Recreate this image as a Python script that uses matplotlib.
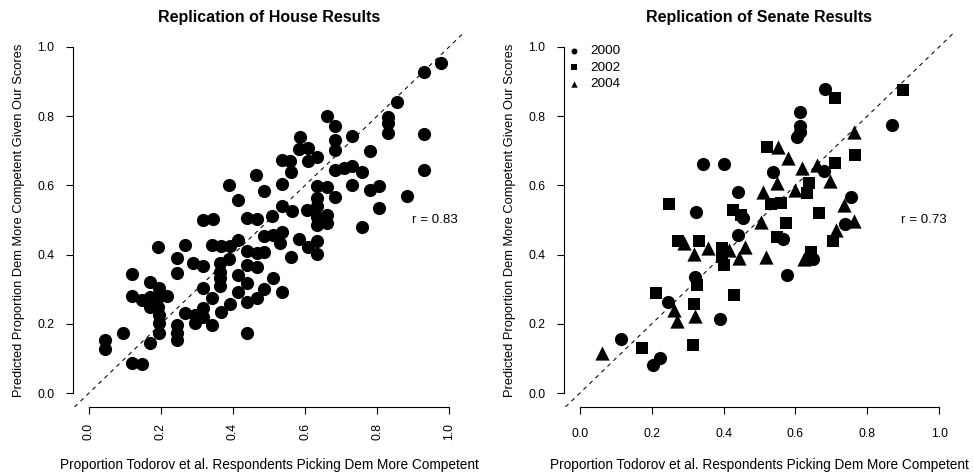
import matplotlib
matplotlib.use("Agg")
import matplotlib.pyplot as plt
import numpy as np

plt.rcParams['font.family'] = ['Liberation Sans', 'DejaVu Sans']

# House replication data (x: Todorov proportion, y: predicted proportion)
house_x = [0.978, 0.929, 0.856, 0.831, 0.831, 0.831, 0.929, 0.929, 0.882, 0.781,
           0.757, 0.806, 0.806, 0.781, 0.731, 0.731, 0.683, 0.683, 0.683, 0.683,
           0.708, 0.731, 0.757, 0.683, 0.660, 0.586, 0.584, 0.609, 0.609, 0.634,
           0.535, 0.558, 0.561, 0.464, 0.535, 0.486, 0.390, 0.415, 0.634, 0.660,
           0.634, 0.634, 0.606, 0.535, 0.563, 0.507, 0.660, 0.660, 0.634, 0.634,
           0.438, 0.466, 0.316, 0.344, 0.486, 0.512, 0.535, 0.530, 0.584, 0.609,
           0.634, 0.634, 0.561, 0.415, 0.341, 0.368, 0.392, 0.267, 0.193, 0.438,
           0.466, 0.486, 0.390, 0.244, 0.290, 0.318, 0.364, 0.364, 0.364, 0.364,
           0.438, 0.466, 0.415, 0.438, 0.415, 0.244, 0.119, 0.169, 0.195, 0.216,
           0.119, 0.147, 0.169, 0.169, 0.193, 0.193, 0.195, 0.195, 0.195, 0.169,
           0.095, 0.046, 0.046, 0.119, 0.147, 0.244, 0.244, 0.244, 0.267, 0.294,
           0.294, 0.318, 0.318, 0.318, 0.341, 0.341, 0.368, 0.392, 0.438, 0.466,
           0.486, 0.512, 0.535, 0.438]
house_y = [0.954, 0.928, 0.842, 0.798, 0.780, 0.751, 0.749, 0.645, 0.568, 0.698,
           0.481, 0.534, 0.597, 0.587, 0.742, 0.602, 0.771, 0.732, 0.701, 0.645,
           0.650, 0.655, 0.640, 0.565, 0.801, 0.740, 0.705, 0.708, 0.669, 0.682,
           0.674, 0.669, 0.640, 0.631, 0.605, 0.583, 0.602, 0.558, 0.599, 0.595,
           0.563, 0.539, 0.530, 0.539, 0.525, 0.512, 0.515, 0.491, 0.510, 0.486,
           0.507, 0.502, 0.499, 0.503, 0.454, 0.457, 0.464, 0.433, 0.446, 0.423,
           0.438, 0.401, 0.394, 0.443, 0.428, 0.425, 0.425, 0.428, 0.423, 0.411,
           0.406, 0.409, 0.387, 0.390, 0.375, 0.366, 0.375, 0.351, 0.332, 0.308,
           0.370, 0.363, 0.341, 0.317, 0.293, 0.346, 0.343, 0.322, 0.303, 0.281,
           0.281, 0.269, 0.279, 0.250, 0.279, 0.250, 0.226, 0.202, 0.173, 0.144,
           0.175, 0.153, 0.127, 0.088, 0.084, 0.197, 0.175, 0.153, 0.231, 0.226,
           0.202, 0.245, 0.221, 0.303, 0.274, 0.197, 0.235, 0.258, 0.262, 0.276,
           0.300, 0.332, 0.293, 0.175]

# Senate replication data by year
s2000_x = [0.683, 0.612, 0.612, 0.612, 0.603, 0.868, 0.342, 0.402, 0.538, 0.679,
           0.439, 0.755, 0.739, 0.323, 0.455, 0.441, 0.566, 0.649, 0.577, 0.320,
           0.245, 0.390, 0.114, 0.224, 0.204]
s2000_y = [0.877, 0.812, 0.771, 0.755, 0.740, 0.774, 0.662, 0.662, 0.639, 0.642,
           0.582, 0.565, 0.488, 0.522, 0.505, 0.457, 0.444, 0.387, 0.341, 0.335,
           0.262, 0.213, 0.157, 0.101, 0.082]
s2002_x = [0.898, 0.711, 0.766, 0.709, 0.522, 0.637, 0.633, 0.531, 0.560, 0.665,
           0.573, 0.548, 0.425, 0.448, 0.247, 0.272, 0.332, 0.397, 0.397, 0.402,
           0.326, 0.319, 0.429, 0.212, 0.314, 0.174, 0.642, 0.704]
s2002_y = [0.875, 0.853, 0.689, 0.666, 0.710, 0.606, 0.579, 0.546, 0.548, 0.521,
           0.490, 0.450, 0.529, 0.514, 0.546, 0.440, 0.438, 0.418, 0.392, 0.370,
           0.312, 0.258, 0.284, 0.290, 0.139, 0.130, 0.409, 0.439]
s2004_x = [0.762, 0.551, 0.579, 0.619, 0.660, 0.695, 0.549, 0.600, 0.511, 0.734,
           0.762, 0.714, 0.503, 0.517, 0.623, 0.459, 0.443, 0.416, 0.356, 0.291,
           0.319, 0.263, 0.270, 0.320, 0.063]
s2004_y = [0.755, 0.712, 0.678, 0.649, 0.659, 0.613, 0.606, 0.588, 0.582, 0.543,
           0.497, 0.471, 0.495, 0.394, 0.387, 0.423, 0.391, 0.413, 0.418, 0.433,
           0.401, 0.240, 0.207, 0.223, 0.117]

years = ["2000", "2002", "2004"]
ticks = [0.0, 0.2, 0.4, 0.6, 0.8, 1.0]
tick_labels = ["0.0", "0.2", "0.4", "0.6", "0.8", "1.0"]
r_house = "r = 0.83"
r_senate = "r = 0.73"

W, H = 973, 476
fig = plt.figure(figsize=(W / 100, H / 100), dpi=100)

def box(x0, x1, y0, y1):
    return [x0 / W, 1 - y1 / H, (x1 - x0) / W, (y1 - y0) / H]

ax1 = fig.add_axes(box(73, 465, 33, 407))
ax2 = fig.add_axes(box(564, 955, 33, 407))

xlabel = "Proportion Todorov et al. Respondents Picking Dem More Competent"
ylabel = "Predicted Proportion Dem More Competent Given Our Scores"

for ax in (ax1, ax2):
    ax.set_xlim(-0.044, 1.044)
    ax.set_ylim(-0.04, 1.04)
    ax.spines['top'].set_visible(False)
    ax.spines['right'].set_visible(False)
    ax.spines['left'].set_bounds(0, 1)
    ax.spines['bottom'].set_bounds(0, 1)
    ax.spines['left'].set_linewidth(0.8)
    ax.spines['bottom'].set_linewidth(0.8)
    ax.set_xticks(ticks)
    ax.set_yticks(ticks)
    ax.set_yticklabels(tick_labels)
    ax.tick_params(direction='out', length=5, width=0.8, labelsize=8.8)
    ax.tick_params(axis='y', pad=8.5)
    ax.axline((0, 0), slope=1, color='black', lw=0.75, ls=(0, (4, 4)), zorder=1)
    ax.set_xlabel(xlabel, fontsize=9.8)
    ax.set_ylabel(ylabel, fontsize=9.3, labelpad=9)
    ax.xaxis.set_label_coords(0.5, -0.137)

ax1.set_xticklabels(tick_labels, rotation=90)
ax1.tick_params(axis='x', pad=6.5)
ax2.set_xticklabels(tick_labels)
ax2.tick_params(axis='x', pad=10)

ax1.scatter(house_x, house_y, s=90, c='black', marker='o', linewidths=0, zorder=3)
ax1.text(0.96, 0.5, r_house, ha='center', va='center', fontsize=9.6)
ax1.set_title("Replication of House Results", fontsize=11.5, fontweight='bold', pad=8)

ax2.scatter(s2000_x, s2000_y, s=90, c='black', marker='o', linewidths=0, zorder=3, label=years[0])
ax2.scatter(s2002_x, s2002_y, s=80, c='black', marker='s', linewidths=0, zorder=3, label=years[1])
ax2.scatter(s2004_x, s2004_y, s=105, c='black', marker='^', linewidths=0, zorder=3, label=years[2])
ax2.text(0.958, 0.5, r_senate, ha='center', va='center', fontsize=9.6)
ax2.set_title("Replication of Senate Results", fontsize=11.5, fontweight='bold', pad=8)

leg = ax2.legend(loc='upper left', bbox_to_anchor=(-0.005, 0.983), frameon=False, fontsize=9.7,
                 markerscale=0.45, handletextpad=0.7, labelspacing=0.3, borderaxespad=0.0,
                 handlelength=1.0)

fig.savefig("out.png", dpi=100)
